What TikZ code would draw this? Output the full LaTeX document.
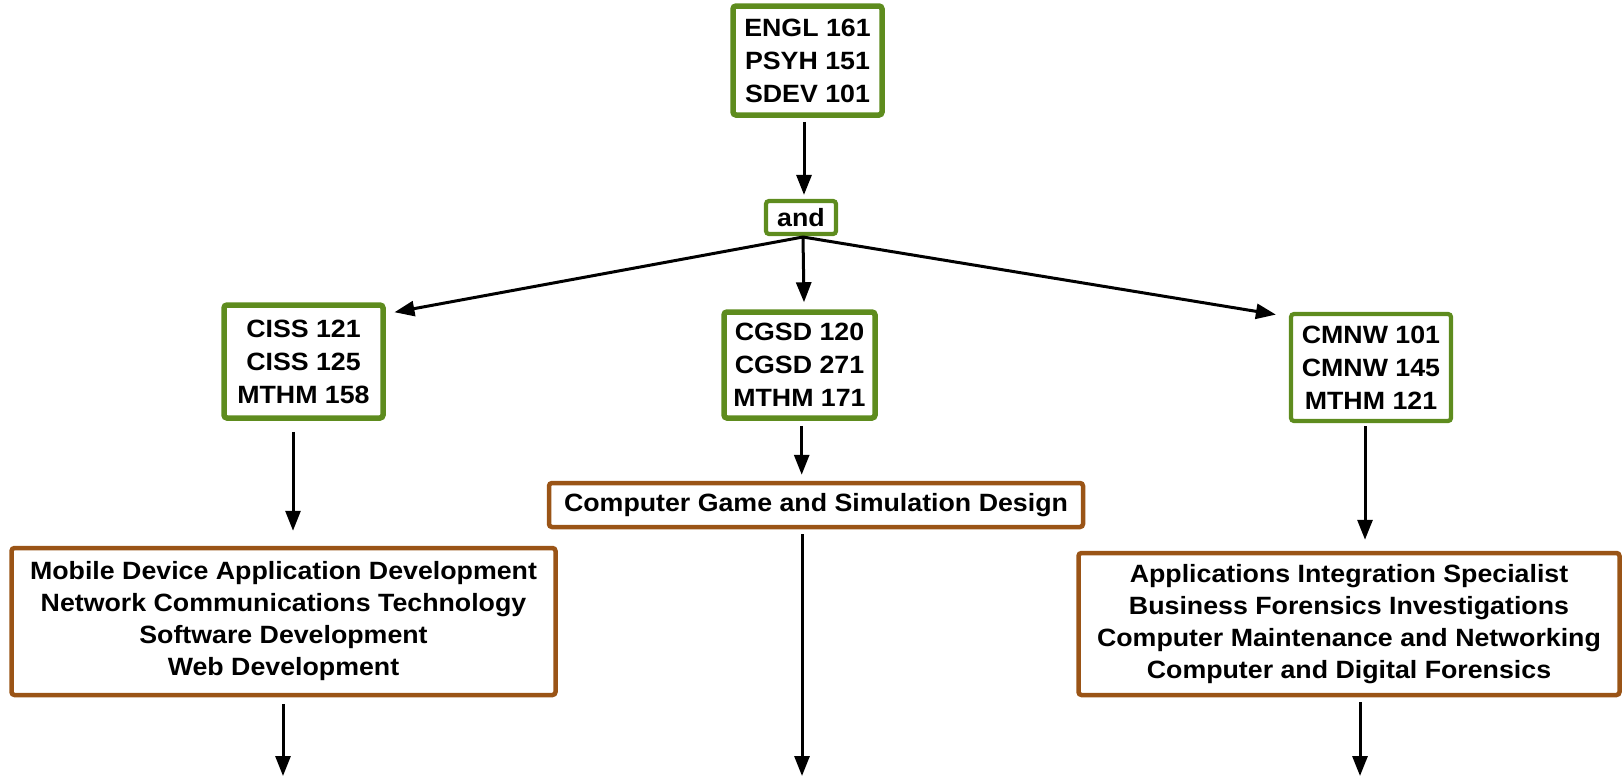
\documentclass[tikz,border=0pt]{standalone}
\usepackage{fontspec}
\setmainfont[FakeStretch=1.07]{Liberation Sans}
\usetikzlibrary{arrows.meta,calc}
\definecolor{boxgreen}{RGB}{94,140,30}
\definecolor{boxbrown}{RGB}{154,84,22}
\begin{document}
\begin{tikzpicture}[x=1pt,y=-1pt,
  txt/.style={font=\fontsize{25}{33}\selectfont\bfseries, align=center, inner sep=0pt, rounded corners=3pt},
  gbox/.style={txt, draw=boxgreen, line width=5.5pt},
  gthin/.style={txt, draw=boxgreen, line width=4.2pt},
  bbox/.style={txt, font=\fontsize{25}{32}\selectfont\bfseries, draw=boxbrown, line width=4.5pt},
  arr/.style={line width=3pt, -{Triangle[length=20pt,width=15pt]}}]
\useasboundingbox (0,0) rectangle (1623,777);
\node[gbox, minimum width=149pt, minimum height=109pt] (top) at (807.5,60.5) {ENGL 161\\PSYH 151\\SDEV 101};
\node[gthin, minimum width=70pt, minimum height=33pt] (and) at (801,217.5) {and};
\node[gbox, minimum width=159pt, minimum height=113pt] (ciss) at (303.5,361.5) {CISS 121\\CISS 125\\MTHM 158};
\node[gbox, minimum width=151pt, minimum height=106pt] (cgsd) at (799.5,365) {CGSD 120\\CGSD 271\\MTHM 171};
\node[gthin, minimum width=160pt, minimum height=107pt] (cmnw) at (1371,367.5) {CMNW 101\\CMNW 145\\MTHM 121};
\node[bbox, minimum width=544pt, minimum height=147pt] (lprog) at (283.5,621.5) {Mobile Device Application Development\\Network Communications Technology\\Software Development\\Web Development};
\node[bbox, minimum width=534pt, minimum height=44pt] (mprog) at (816,505) {Computer Game and Simulation Design};
\node[bbox, minimum width=541pt, minimum height=142pt] (rprog) at (1349,624) {Applications Integration Specialist\\Business Forensics Investigations\\Computer Maintenance and Networking\\Computer and Digital Forensics};
\coordinate (fan) at (803,237);
\coordinate (lend) at (283,776);
\coordinate (mend) at (802,776);
\coordinate (rend) at (1360,776);
\draw[arr] ($(top.south)+(-3.5,4)$) -- ($(and.north)+(3,-4)$);
\draw[arr] (fan) -- ($(ciss.north east)+(8.7,10)$);
\draw[arr] (fan) -- ($(cgsd.north)+(4.5,-7)$);
\draw[arr] (fan) -- ($(cmnw.north west)+(-13,2.7)$);
\draw[arr] ($(ciss.south)+(-10.5,11)$) -- ($(lprog.north)+(9.5,-15)$);
\draw[arr] ($(cgsd.south)+(2.2,5)$) -- ($(mprog.north)+(-14.3,-6)$);
\draw[arr] ($(cmnw.south)+(-6,3)$) -- ($(rprog.north)+(16,-11)$);
\draw[arr] ($(lprog.south)+(-0.5,7)$) -- (lend);
\draw[arr] ($(mprog.south)+(-14,5)$) -- (mend);
\draw[arr] ($(rprog.south)+(11,5)$) -- (rend);
\end{tikzpicture}
\end{document}
